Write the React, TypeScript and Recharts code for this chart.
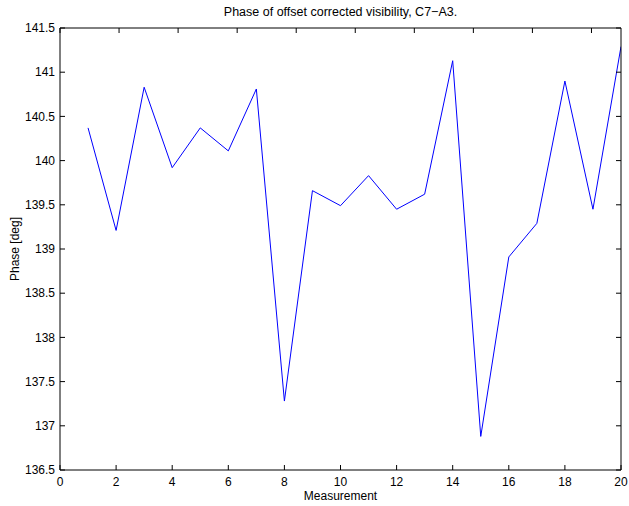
import React from 'react';
import { LineChart, Line, XAxis, YAxis } from 'recharts';

const measurements = [1, 2, 3, 4, 5, 6, 7, 8, 9, 10, 11, 12, 13, 14, 15, 16, 17, 18, 19, 20];
const phaseDeg = [140.37, 139.21, 140.83, 139.92, 140.37, 140.11, 140.81, 137.28, 139.66, 139.49,
  139.83, 139.45, 139.62, 141.13, 136.88, 138.91, 139.29, 140.90, 139.45, 141.29];

const xTicks = [0, 2, 4, 6, 8, 10, 12, 14, 16, 18, 20];
const yTicks = [136.5, 137, 137.5, 138, 138.5, 139, 139.5, 140, 140.5, 141, 141.5];

const title = 'Phase of offset corrected visibility, C7\u2212A3.';
const xLabel = 'Measurement';
const yLabel = 'Phase [deg]';

const data = measurements.map((m, i) => ({ m, phase: phaseDeg[i] }));

const FONT = '"Liberation Sans", Arial, Helvetica, sans-serif';
const tickStyle = { fontSize: 12, fill: '#000', fontFamily: FONT };

export default function App() {
  return (
    <div style={{ position: 'absolute', left: 0, top: 0, width: 629, height: 506, background: '#fff', fontFamily: FONT }}>
      <div style={{ position: 'absolute', left: 60, width: 561, top: 4, textAlign: 'center', fontSize: 12.5, color: '#000', lineHeight: '16px' }}>
        {title}
      </div>
      <LineChart width={629} height={506} data={data} margin={{ top: 0, right: 0, bottom: 0, left: 0 }}>
        <XAxis
          dataKey="m"
          type="number"
          domain={[0, 20]}
          ticks={xTicks}
          allowDataOverflow
          height={36}
          tickSize={-5}
          tickMargin={12}
          stroke="#000"
          tick={tickStyle}
          label={{ value: xLabel, position: 'insideBottom', offset: 6, style: { fontSize: 12, fill: '#000', fontFamily: FONT } }}
        />
        <XAxis
          xAxisId="top"
          orientation="top"
          type="number"
          domain={[0, 20]}
          ticks={xTicks}
          allowDataOverflow
          height={28}
          tickSize={-5}
          stroke="#000"
          tick={() => null}
        />
        <YAxis
          type="number"
          domain={[136.5, 141.5]}
          ticks={yTicks}
          allowDataOverflow
          width={60}
          tickSize={-5}
          tickMargin={10}
          stroke="#000"
          tick={tickStyle}
          label={{ value: yLabel, angle: -90, position: 'insideLeft', offset: 15, style: { fontSize: 12, fill: '#000', fontFamily: FONT, textAnchor: 'middle' } }}
        />
        <YAxis
          yAxisId="right"
          orientation="right"
          type="number"
          domain={[136.5, 141.5]}
          ticks={yTicks}
          allowDataOverflow
          width={8}
          tickSize={-5}
          stroke="#000"
          tick={() => null}
        />
        <Line
          type="linear"
          dataKey="phase"
          stroke="#0000ff"
          strokeWidth={1}
          dot={false}
          isAnimationActive={false}
        />
      </LineChart>
    </div>
  );
}
